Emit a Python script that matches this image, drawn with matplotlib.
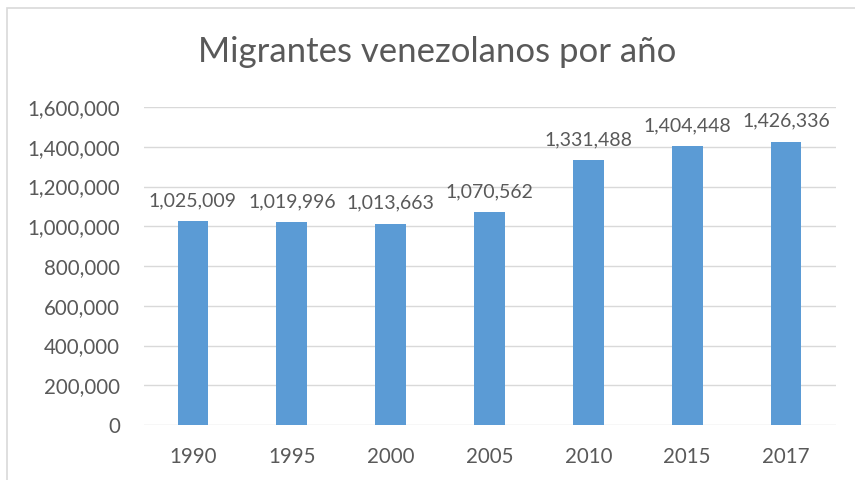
import matplotlib
matplotlib.use('Agg')
import matplotlib.pyplot as plt
from matplotlib.patches import Rectangle
from matplotlib.ticker import FuncFormatter

years = ['1990', '1995', '2000', '2005', '2010', '2015', '2017']
migrants = [1025009, 1019996, 1013663, 1070562, 1331488, 1404448, 1426336]

text_color = '#595959'
bar_color = '#5B9BD5'
grid_color = '#D9D9D9'

plt.rcParams['font.family'] = ['Lato', 'DejaVu Sans']

fig = plt.figure(figsize=(8.55, 4.8), dpi=100)
# chart border (Excel-like frame, cropped at right/bottom)
fig.patches.append(Rectangle((7 / 855, -0.05), 1.0, 1 - 8 / 480 + 0.05,
                             transform=fig.transFigure, fill=False,
                             edgecolor='#D9D9D9', linewidth=1.2))

ax = fig.add_axes([143.5 / 855, 1 - 425 / 480, 692 / 855, 318 / 480])
x = range(len(years))
bars = ax.bar(x, migrants, width=0.31, color=bar_color, zorder=3)

for xi, v in zip(x, migrants):
    ax.text(xi, v + 60000, '{:,}'.format(v), ha='center', va='bottom',
            fontsize=14, color=text_color)

ax.set_xlim(-0.5, len(years) - 0.5)
ax.set_ylim(0, 1600000)
ax.set_yticks(range(0, 1600001, 200000))
ax.yaxis.set_major_formatter(FuncFormatter(lambda v, p: '{:,}'.format(int(v))))
ax.set_xticks(list(x))
ax.set_xticklabels(years)
ax.grid(axis='y', color=grid_color, linewidth=1, zorder=0)
ax.tick_params(axis='both', length=0, labelsize=14.8, labelcolor=text_color)
ax.tick_params(axis='y', pad=17)
ax.tick_params(axis='x', pad=16)
for s in ax.spines.values():
    s.set_visible(False)

fig.text(437 / 855, 1 - 52 / 480, 'Migrantes venezolanos por año',
         ha='center', va='center', fontsize=25, color=text_color)

fig.savefig('out.png', dpi=100)
